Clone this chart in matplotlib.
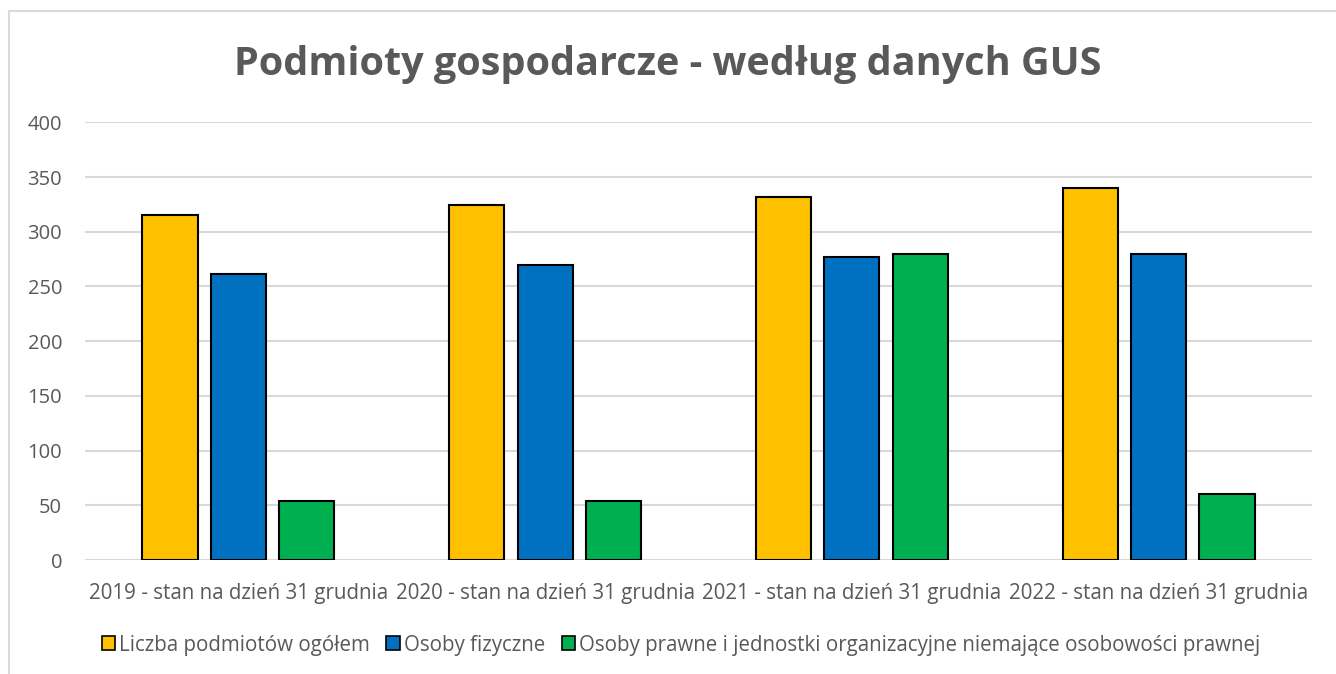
import matplotlib
matplotlib.use('Agg')
import matplotlib.pyplot as plt
from matplotlib.lines import Line2D
from matplotlib.patches import Patch
import numpy as np

plt.rcParams['font.family'] = ['Open Sans', 'DejaVu Sans']

categories = ['2019 - stan na dzień 31 grudnia', '2020 - stan na dzień 31 grudnia',
              '2021 - stan na dzień 31 grudnia', '2022 - stan na dzień 31 grudnia']
ogolem = [315, 324, 332, 340]
fizyczne = [261, 270, 277, 280]
prawne = [54, 54, 280, 60]
labels = ['Liczba podmiotów ogółem', 'Osoby fizyczne',
          'Osoby prawne i jednostki organizacyjne niemające osobowości prawnej']
colors = ['#ffc000', '#0070c0', '#00b050']

grey = '#595959'
fig = plt.figure(figsize=(13.36, 6.74), dpi=100)
ax = fig.add_axes([85 / 1336, 1 - 560 / 674, 1227 / 1336, 437.7 / 674])

pos = np.arange(len(categories))
width = 0.18
offs = 0.223
for i, (vals, col) in enumerate(zip([ogolem, fizyczne, prawne], colors)):
    ax.bar(pos + (i - 1) * offs, vals, width, color=col, edgecolor='black',
           linewidth=1.5, zorder=3)

ax.set_xlim(-0.5, len(categories) - 0.5)
ax.set_ylim(0, 400)
ax.set_yticks(range(0, 401, 50))
ax.yaxis.grid(True, color='#d9d9d9', linewidth=1.5, zorder=0)
ax.set_axisbelow(True)
for s in ax.spines.values():
    s.set_visible(False)
ax.tick_params(length=0, labelsize=14.5, colors=grey)
ax.tick_params(axis='y', pad=16.5)
ax.tick_params(axis='x', pad=16.5)
ax.set_xticks(pos)
ax.set_xticklabels(categories, fontsize=14.8)

fig.text(668 / 1336, 1 - 75 / 674, 'Podmioty gospodarcze - według danych GUS',
         ha='center', va='baseline', fontsize=28.5, fontweight='bold', color=grey)

handles = [Patch(facecolor=c, edgecolor='black', linewidth=1.2) for c in colors]
fig.legend(handles, labels, loc='center', bbox_to_anchor=(681 / 1336, 1 - 645 / 674),
           ncol=3, frameon=False, fontsize=14.8, labelcolor=grey,
           handlelength=0.65, handleheight=0.65, handletextpad=0.2, columnspacing=0.8)

# chart border (top and left visible)
fig.add_artist(Line2D([9 / 1336, 1], [1 - 11 / 674, 1 - 11 / 674], color='#d9d9d9', linewidth=1.5))
fig.add_artist(Line2D([9 / 1336, 9 / 1336], [0, 1 - 11 / 674], color='#d9d9d9', linewidth=1.5))

fig.savefig('out.png', dpi=100)
